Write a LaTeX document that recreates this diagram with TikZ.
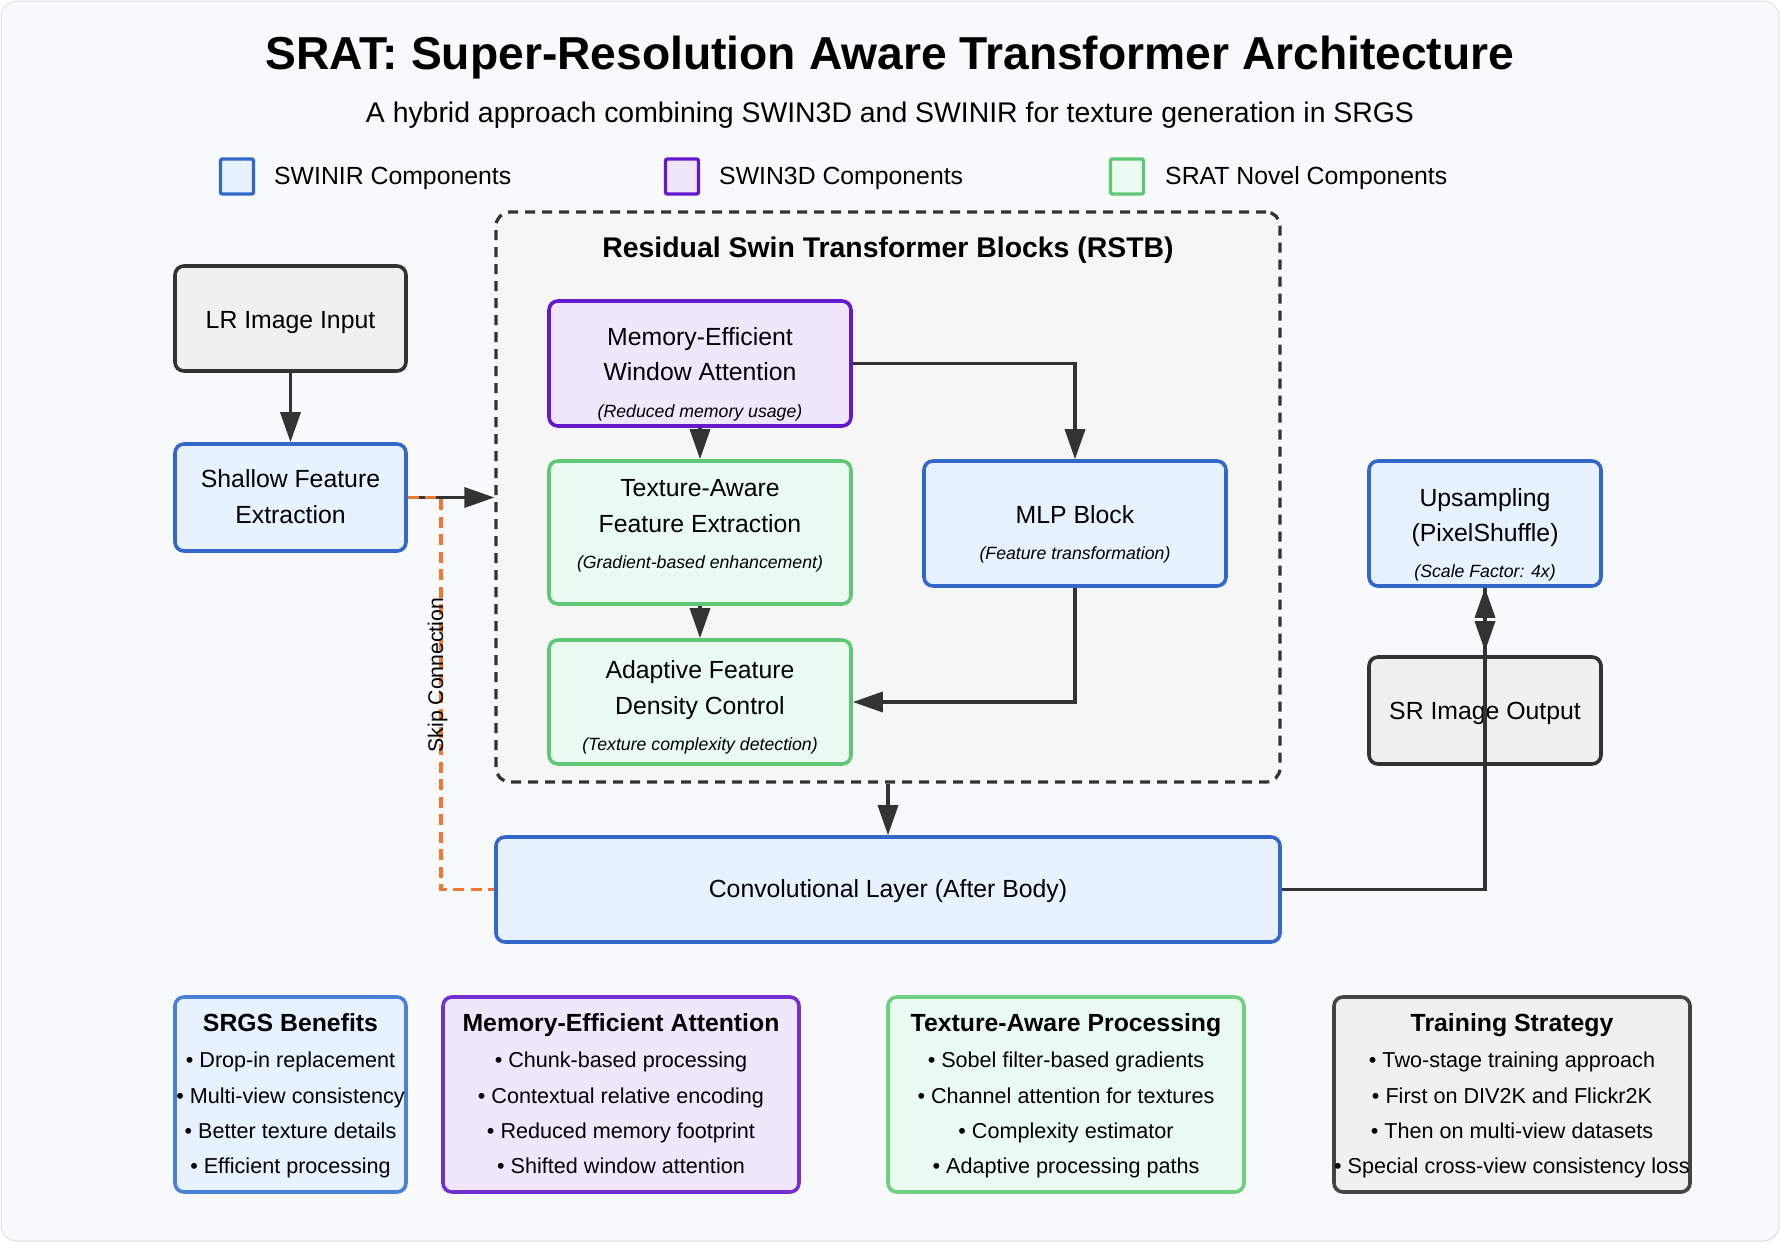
\documentclass[tikz,border=0pt]{standalone}
\usepackage{fontspec}
\setmainfont{Liberation Sans}
\usetikzlibrary{arrows.meta}

\definecolor{bg}{RGB}{248,249,250}
\definecolor{dark}{RGB}{51,51,51}
\definecolor{blueB}{RGB}{52,104,200}
\definecolor{blueF}{RGB}{232,241,254}
\definecolor{purB}{RGB}{102,24,204}
\definecolor{purF}{RGB}{241,231,253}
\definecolor{grnB}{RGB}{96,200,116}
\definecolor{grnF}{RGB}{234,252,241}
\definecolor{gryB}{RGB}{51,51,51}
\definecolor{gryF}{RGB}{240,240,240}
\definecolor{rstbF}{RGB}{246,246,246}
\definecolor{orng}{RGB}{240,120,48}
\definecolor{blueB2}{RGB}{74,128,214}
\definecolor{purB2}{RGB}{114,48,210}
\definecolor{grnB2}{RGB}{112,208,130}
\definecolor{gryB2}{RGB}{68,68,68}

\newcommand\fsz[1]{\fontsize{#1}{#1}\selectfont}

\begin{document}
\begin{tikzpicture}[x=1pt,y=-1pt,
  box/.style={draw, rounded corners=9pt, line width=3.6pt, inner sep=0pt},
  bluebox/.style={box, draw=blueB, fill=blueF},
  purbox/.style={box, draw=purB, fill=purF},
  grnbox/.style={box, draw=grnB, fill=grnF},
  grybox/.style={box, draw=gryB, fill=gryF},
  ln/.style={inner sep=0pt, anchor=base, font=\fsz{24.8}},
  note/.style={inner sep=0pt, anchor=base, font=\fsz{17.7}\itshape},
  head/.style={inner sep=0pt, anchor=base, font=\fsz{24.8}\bfseries},
  bul/.style={inner sep=0pt, anchor=base, font=\fsz{21.6}},
  legsq/.style={draw, line width=3.4pt, rounded corners=2pt, minimum width=33pt, minimum height=35pt, inner sep=0pt},
  legtx/.style={inner sep=0pt, anchor=base west, font=\fsz{24.8}},
  arr/.style={draw=dark, line width=3.4pt, -{Triangle[length=30pt,width=20pt]}},
  skip/.style={draw=orng, line width=3.8pt, dash pattern=on 11pt off 6.5pt},
]
\useasboundingbox (0,0) rectangle (1780,1242);
\fill[white] (0,0) rectangle (1780,1242);
\draw[fill=bg, draw=black!12, line width=1pt, rounded corners=16pt] (1,1) rectangle (1779,1241);

% title
\node[inner sep=0pt, anchor=base, font=\fsz{46.2}\bfseries] (title) at (890,69.3) {SRAT: Super-Resolution Aware Transformer Architecture};
\node[inner sep=0pt, anchor=base, font=\fsz{28.4}] (subtitle) at (890,122.7) {A hybrid approach combining SWIN3D and SWINIR for texture generation in SRGS};

% legend
\node[legsq, draw=blueB, fill=blueF] (lg1) at (237,176.5) {};
\node[legtx] (lgt1) at (274,184) {SWINIR Components};
\node[legsq, draw=purB, fill=purF] (lg2) at (682,176.5) {};
\node[legtx] (lgt2) at (719,184) {SWIN3D Components};
\node[legsq, draw=grnB, fill=grnF] (lg3) at (1127,176.5) {};
\node[legtx] (lgt3) at (1165,184) {SRAT Novel Components};

% RSTB container
\node[draw=dark, fill=rstbF, line width=3.2pt, dash pattern=on 10pt off 7pt, rounded corners=14pt,
  minimum width=784pt, minimum height=570pt, inner sep=0pt] (rstb) at (888,497) {};
\node[head, font=\fsz{28.4}\bfseries] (rstbt) at (888,257) {Residual Swin Transformer Blocks (RSTB)};

% main nodes
\node[grybox, minimum width=231pt, minimum height=105pt] (lr) at (290.5,318.5) {};
\node[ln] (lrt) at (290.5,328.3) {LR Image Input};

\node[bluebox, minimum width=231pt, minimum height=107pt] (shallow) at (290.5,497.5) {};
\node[ln] (sht1) at (290.5,487.3) {Shallow Feature};
\node[ln] (sht2) at (290.5,523.3) {Extraction};

\node[purbox, minimum width=302pt, minimum height=125pt] (mem) at (700,363.5) {};
\node[ln] (memt1) at (700,345.7) {Memory-Efficient};
\node[ln] (memt2) at (700,380.7) {Window Attention};
\node[note] (memn) at (700,417.3) {(Reduced memory usage)};

\node[grnbox, minimum width=302pt, minimum height=143pt] (tex) at (700,532.5) {};
\node[ln] (text1) at (700,496.7) {Texture-Aware};
\node[ln] (text2) at (700,532.5) {Feature Extraction};
\node[note] (texn) at (700,568.8) {(Gradient-based enhancement)};

\node[grnbox, minimum width=302pt, minimum height=124pt] (ada) at (700,702) {};
\node[ln] (adat1) at (700,678.3) {Adaptive Feature};
\node[ln] (adat2) at (700,714) {Density Control};
\node[note] (adan) at (700,750) {(Texture complexity detection)};

\node[bluebox, minimum width=302pt, minimum height=125pt] (mlp) at (1075,523.5) {};
\node[ln] (mlpt) at (1075,523.4) {MLP Block};
\node[note] (mlpn) at (1075,559.7) {(Feature transformation)};

\node[bluebox, minimum width=232pt, minimum height=125pt] (up) at (1485,523.5) {};
\node[ln] (upt1) at (1485,506) {Upsampling};
\node[ln] (upt2) at (1485,541) {(PixelShuffle)};
\node[note] (upn) at (1485,577) {(Scale Factor: 4x)};

\node[grybox, minimum width=232pt, minimum height=107pt] (sr) at (1485,710.5) {};
\node[ln] (srt) at (1485,719.7) {SR Image Output};

\node[bluebox, minimum width=784pt, minimum height=105pt] (conv) at (888,889.5) {};
\node[ln] (convt) at (888,897.5) {Convolutional Layer (After Body)};

% connectors
\draw[arr] (lr) -- (shallow);
\draw[arr] (shallow.east) -- (shallow.east -| rstb.west);
\coordinate (skipx) at (441,0);
\draw[skip] (shallow.east) -| (skipx |- conv.west) -- (conv.west);
\node[inner sep=0pt, rotate=90, anchor=base, font=\fsz{21.2}] (skiplbl) at (443,675) {Skip Connection};
\draw[arr] (mem) -- (tex);
\draw[arr] (tex) -- (ada);
\draw[arr] (mem.east) -| (mlp.north);
\draw[arr] (mlp.south) |- (ada.east);
\draw[arr] (rstb.south) -- (conv.north);
\draw[arr] (conv.east) -| (up.south);
\draw[arr, shorten >=4pt] (up.south) -- (sr.north);

% bottom info boxes
\node[box, draw=blueB2, fill=blueF, minimum width=231pt, minimum height=195pt] (b1) at (290.5,1094.5) {};
\node[box, draw=purB2, fill=purF, minimum width=356pt, minimum height=195pt] (b2) at (621,1094.5) {};
\node[box, draw=grnB2, fill=grnF, minimum width=356pt, minimum height=195pt] (b3) at (1066,1094.5) {};
\node[box, draw=gryB2, fill=gryF, minimum width=356pt, minimum height=195pt] (b4) at (1512,1094.5) {};

\node[head] (b1h) at (290.5,1031.3) {SRGS Benefits};
\node[bul] (b1a) at (290.5,1067.3) {• Drop-in replacement};
\node[bul] (b1b) at (290.5,1103.3) {• Multi-view consistency};
\node[bul] (b1c) at (290.5,1138.3) {• Better texture details};
\node[bul] (b1d) at (290.5,1173.3) {• Efficient processing};

\node[head] (b2h) at (621,1031.3) {Memory-Efficient Attention};
\node[bul] (b2a) at (621,1067.3) {• Chunk-based processing};
\node[bul] (b2b) at (621,1103.3) {• Contextual relative encoding};
\node[bul] (b2c) at (621,1138.3) {• Reduced memory footprint};
\node[bul] (b2d) at (621,1173.3) {• Shifted window attention};

\node[head] (b3h) at (1066,1031.3) {Texture-Aware Processing};
\node[bul] (b3a) at (1066,1067.3) {• Sobel filter-based gradients};
\node[bul] (b3b) at (1066,1103.3) {• Channel attention for textures};
\node[bul] (b3c) at (1066,1138.3) {• Complexity estimator};
\node[bul] (b3d) at (1066,1173.3) {• Adaptive processing paths};

\node[head] (b4h) at (1512,1031.3) {Training Strategy};
\node[bul] (b4a) at (1512,1067.3) {• Two-stage training approach};
\node[bul] (b4b) at (1512,1103.3) {• First on DIV2K and Flickr2K};
\node[bul] (b4c) at (1512,1138.3) {• Then on multi-view datasets};
\node[bul] (b4d) at (1512,1173.3) {• Special cross-view consistency loss};
\end{tikzpicture}
\end{document}
